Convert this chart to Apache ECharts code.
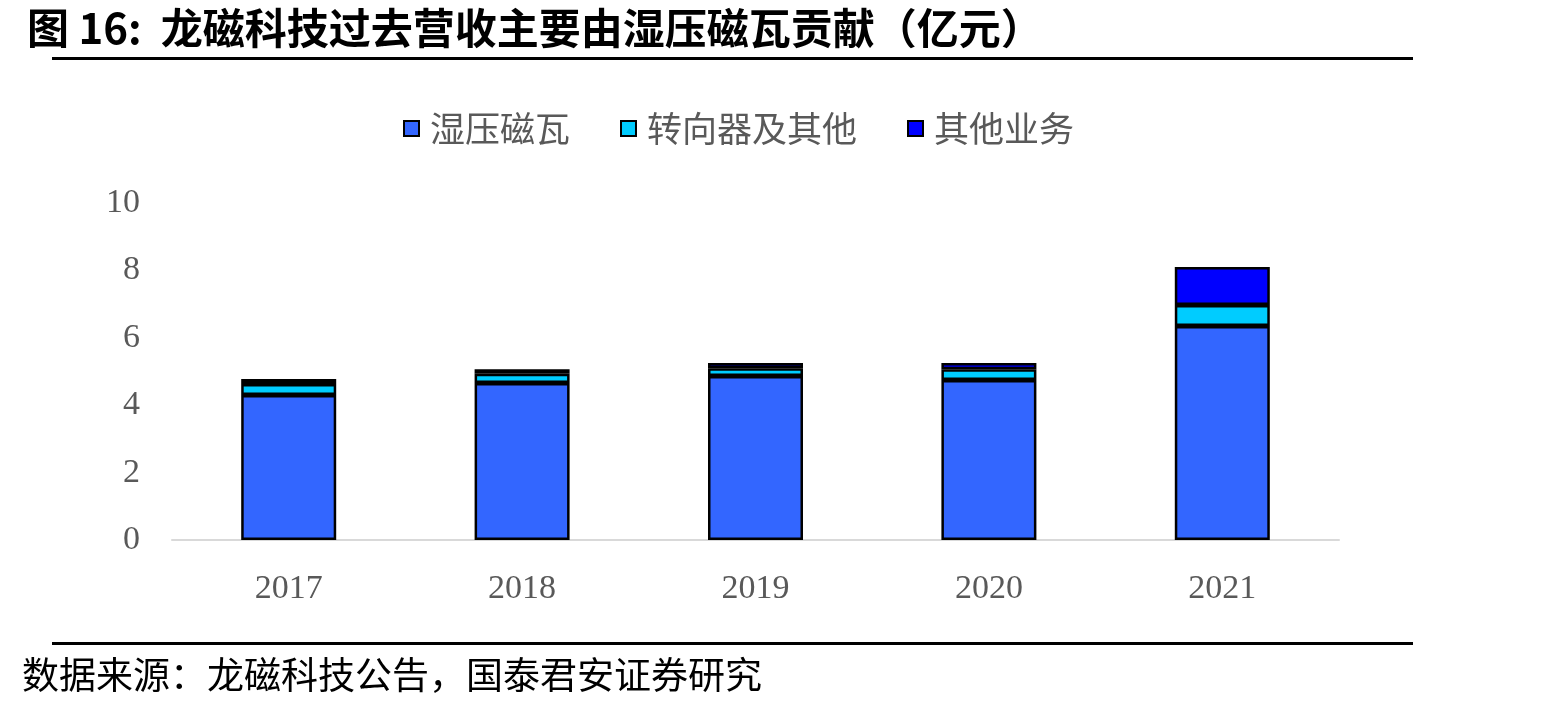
<!DOCTYPE html>
<html>
<head>
<meta charset="utf-8">
<script src="https://cdn.jsdelivr.net/npm/echarts@6/dist/echarts.min.js"></script>
<style>
  html, body { margin: 0; padding: 0; background: #fff; }
  #chart { width: 1567px; height: 709px; }
</style>
</head>
<body>
<div id="chart"></div>
<script>
// 数据（亿元）
var years = ['2017', '2018', '2019', '2020', '2021']
var wetTile = [4.30, 4.66, 4.87, 4.75, 6.35]
var steering = [0.33, 0.27, 0.23, 0.32, 0.62]
var otherBiz = [0.15, 0.14, 0.15, 0.18, 1.13]
var yTicks = [0, 2, 4, 6, 8, 10]

var cjk = '"Noto Sans CJK SC", sans-serif'
var serif = '"Liberation Serif", "Times New Roman", serif'

var chart = echarts.init(document.getElementById('chart'))

function barSeries(name, data, color) {
  return {
    name: name,
    type: 'bar',
    stack: 'total',
    barWidth: 95,
    data: data,
    itemStyle: {
      color: color,
      borderColor: '#000',
      borderWidth: 2.5
    }
  }
}

chart.setOption({
  animation: false,
  title: {
    text: '图 16:  龙磁科技过去营收主要由湿压磁瓦贡献（亿元）',
    left: 22,
    top: 2,
    textStyle: {
      fontFamily: cjk,
      fontWeight: 'bold',
      fontSize: 42,
      color: '#000'
    }
  },
  legend: {
    top: 106,
    left: 398,
    itemWidth: 15,
    itemHeight: 15,
    itemGap: 50,
    icon: 'rect',
    textStyle: {
      fontFamily: cjk,
      fontSize: 35,
      color: '#595959',
      padding: [0, 0, 0, 6]
    },
    data: ['湿压磁瓦', '转向器及其他', '其他业务']
  },
  grid: {
    left: 172,
    right: 228,
    top: 203,
    bottom: 169
  },
  xAxis: {
    type: 'category',
    data: years,
    axisLine: { lineStyle: { color: '#d9d9d9', width: 2 } },
    axisTick: { show: false },
    axisLabel: {
      fontFamily: serif,
      fontSize: 34,
      color: '#595959',
      margin: 32
    }
  },
  yAxis: {
    type: 'value',
    min: yTicks[0],
    max: yTicks[yTicks.length - 1],
    interval: 2,
    splitLine: { show: false },
    axisLine: { show: false },
    axisTick: { show: false },
    axisLabel: {
      fontFamily: serif,
      fontSize: 34,
      color: '#595959',
      margin: 32
    }
  },
  graphic: [
    {
      type: 'rect',
      shape: { x: 52, y: 57, width: 1361, height: 3 },
      style: { fill: '#000' }
    },
    {
      type: 'rect',
      shape: { x: 52, y: 642, width: 1361, height: 3 },
      style: { fill: '#000' }
    },
    {
      type: 'text',
      left: 22,
      top: 656,
      style: {
        text: '数据来源：龙磁科技公告，国泰君安证券研究',
        fontFamily: cjk,
        fontSize: 37,
        fill: '#000'
      }
    }
  ],
  series: [
    barSeries('湿压磁瓦', wetTile, '#3366ff'),
    barSeries('转向器及其他', steering, '#00ccff'),
    barSeries('其他业务', otherBiz, '#0000ff')
  ]
})
</script>
</body>
</html>
